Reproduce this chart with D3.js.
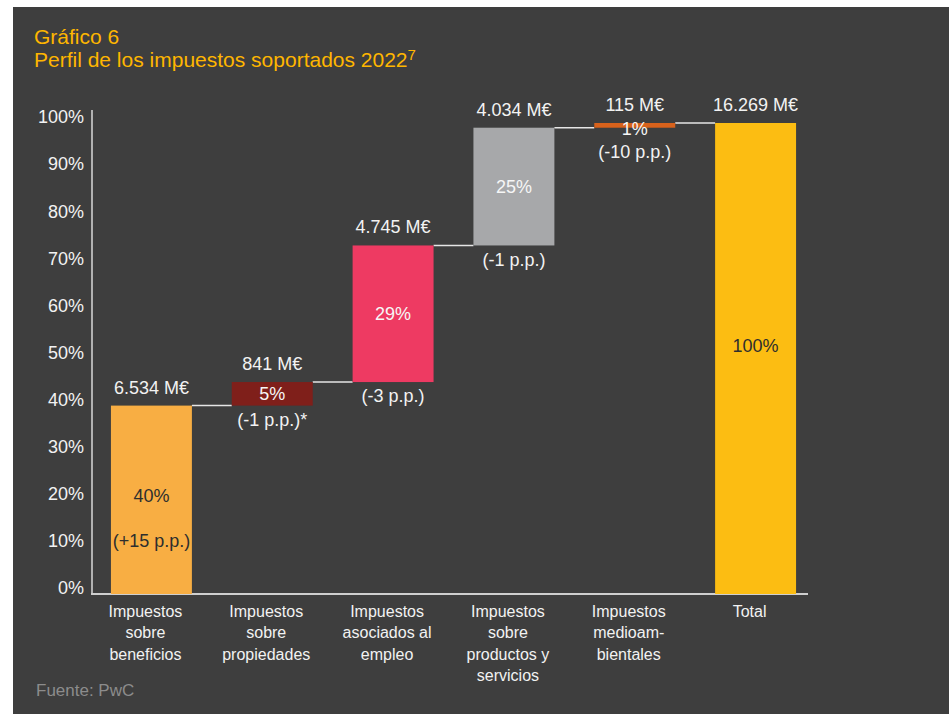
<!DOCTYPE html>
<html lang="es">
<head>
    <meta charset="UTF-8">
    <title>Perfil de los impuestos soportados 2022</title>
    <style>
body {
    margin: 0;
    background-color: #ffffff;
    font-family: "Liberation Sans", Arial, sans-serif;
}

svg text {
    font-family: "Liberation Sans", Arial, sans-serif;
}
    </style>
</head>
<body>
    <svg id="chart" width="949" height="714"></svg>
    <script src="https://d3js.org/d3.v7.min.js"></script>
    <script>
// Datos del gráfico
const categories = [
    ["Impuestos", "sobre", "beneficios"],
    ["Impuestos", "sobre", "propiedades"],
    ["Impuestos", "asociados al", "empleo"],
    ["Impuestos", "sobre", "productos y", "servicios"],
    ["Impuestos", "medioam-", "bientales"],
    ["Total"]
];
const amountLabels = ["6.534 M€", "841 M€", "4.745 M€", "4.034 M€", "115 M€", "16.269 M€"];
const sharePct = [40, 5, 29, 25, 1, 100];
const changeLabels = ["(+15 p.p.)", "(-1 p.p.)*", "(-3 p.p.)", "(-1 p.p.)", "(-10 p.p.)", null];
const barColors = ["#f8ae43", "#7f1f1a", "#ee3a62", "#a7a8aa", "#d8621c", "#fcbd12"];
const yTicks = [0, 10, 20, 30, 40, 50, 60, 70, 80, 90, 100];

const svg = d3.select("#chart");

// fondo gris oscuro
svg.append("rect")
    .attr("x", 13).attr("y", 7)
    .attr("width", 949 - 13).attr("height", 714 - 7)
    .attr("fill", "#3e3e3e");

// titulo
const title = svg.append("g").attr("fill", "#ffb600").style("font-size", "21px");
title.append("text").attr("x", 34).attr("y", 44).text("Gráfico 6");
const t2 = title.append("text").attr("x", 34).attr("y", 67).text("Perfil de los impuestos soportados 2022");
t2.append("tspan").attr("dy", -7).style("font-size", "15px").text("7");

// escalas
const x = d3.scaleBand()
    .domain(d3.range(sharePct.length))
    .range([91, 816])
    .paddingInner(0.33)
    .paddingOuter(0.165);

const y = d3.scaleLinear()
    .domain([0, 100])
    .range([594, 123]);

// calcular inicio y fin de cada barra (cascada)
let acc = 0;
const bars = sharePct.map((v, i) => {
    const isTotal = i === sharePct.length - 1;
    const start = isTotal ? 0 : acc;
    const end = isTotal ? v : acc + v;
    if (!isTotal) acc += v;
    return { i, v, start, end, color: barColors[i], amount: amountLabels[i], change: changeLabels[i] };
});

// ejes
svg.append("line")
    .attr("x1", 92).attr("x2", 92)
    .attr("y1", 110).attr("y2", y(0))
    .attr("stroke", "#d8d8d8").attr("stroke-width", 1.5);

svg.append("line")
    .attr("x1", 91).attr("x2", 808)
    .attr("y1", y(0)).attr("y2", y(0))
    .attr("stroke", "#cfcfcf").attr("stroke-width", 2);

svg.append("g")
    .selectAll("text")
    .data(yTicks)
    .enter().append("text")
    .attr("x", 84)
    .attr("y", d => y(d) - 6)
    .attr("dy", "0.35em")
    .attr("text-anchor", "end")
    .attr("fill", "#f2f2f2")
    .style("font-size", "18px")
    .text(d => d + "%");

// lineas de conexion
svg.append("g")
    .selectAll("line")
    .data(bars.slice(0, -1))
    .enter().append("line")
    .attr("x1", d => x(d.i) + x.bandwidth())
    .attr("x2", d => x(d.i + 1))
    .attr("y1", d => y(d.end))
    .attr("y2", d => y(d.end))
    .attr("stroke", "#e6e6e6")
    .attr("stroke-width", 1.5);

// barras
svg.append("g")
    .selectAll("rect")
    .data(bars)
    .enter().append("rect")
    .attr("x", d => x(d.i))
    .attr("width", x.bandwidth())
    .attr("y", d => y(d.end))
    .attr("height", d => y(d.start) - y(d.end))
    .attr("fill", d => d.color);

// importes encima
svg.append("g")
    .selectAll("text")
    .data(bars)
    .enter().append("text")
    .attr("x", d => x(d.i) + x.bandwidth() / 2)
    .attr("y", d => y(d.end) - (d.v < 3 ? 12 : 12))
    .attr("text-anchor", "middle")
    .attr("fill", "#f2f2f2")
    .style("font-size", "18px")
    .text(d => d.amount);

// porcentajes dentro
const darkText = d => d.i === 0 || d.i === bars.length - 1;
svg.append("g")
    .selectAll("text")
    .data(bars)
    .enter().append("text")
    .attr("x", d => x(d.i) + x.bandwidth() / 2)
    .attr("y", d => {
        const mid = (y(d.start) + y(d.end)) / 2;
        if (d.i === 0) return mid - 4;
        if (d.i === bars.length - 1) return mid - 13;
        return mid + (d.v < 3 ? 3 : 0);
    })
    .attr("dy", "0.35em")
    .attr("text-anchor", "middle")
    .attr("fill", d => darkText(d) ? "#2e2e2e" : "#f6f6f6")
    .style("font-size", "18px")
    .text(d => d.v + "%");

// variaciones en p.p.
svg.append("g")
    .selectAll("text")
    .data(bars.filter(d => d.change))
    .enter().append("text")
    .attr("x", d => x(d.i) + x.bandwidth() / 2)
    .attr("y", d => {
        if (d.i === 0) return (y(d.start) + y(d.end)) / 2 + 41;
        return y(d.start) + (d.v < 3 ? 24 : 14);
    })
    .attr("dy", "0.35em")
    .attr("text-anchor", "middle")
    .attr("fill", d => d.i === 0 ? "#2e2e2e" : "#f2f2f2")
    .style("font-size", "18px")
    .text(d => d.change);

// etiquetas de categorias
const catG = svg.append("g")
    .selectAll("text")
    .data(categories)
    .enter().append("text")
    .attr("text-anchor", "middle")
    .attr("fill", "#f2f2f2")
    .style("font-size", "16px");

catG.selectAll("tspan")
    .data((d, i) => d.map(line => ({ line, i })))
    .enter().append("tspan")
    .attr("x", d => x(d.i) + x.bandwidth() / 2 - 6)
    .attr("y", (d, j) => 617 + j * 21.3)
    .text(d => d.line);

// fuente
svg.append("text")
    .attr("x", 36)
    .attr("y", 696)
    .attr("fill", "#8c8c8c")
    .style("font-size", "17px")
    .text("Fuente: PwC");
    </script>
</body>
</html>
